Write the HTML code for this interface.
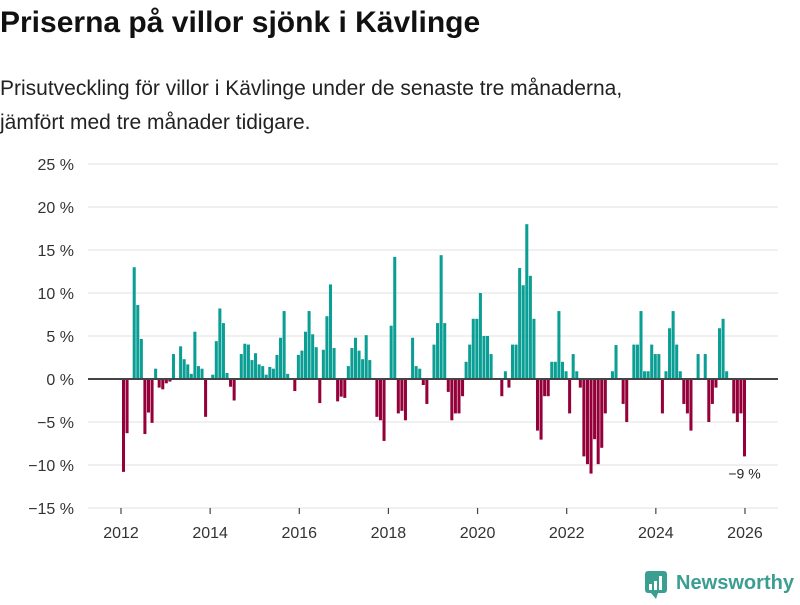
<!DOCTYPE html>
<html><head><meta charset="utf-8"><style>
body{margin:0;background:#fff;font-family:"Liberation Sans","DejaVu Sans",sans-serif;}
#wrap{position:relative;width:800px;height:600px;overflow:hidden;}
h1{position:absolute;left:0;top:6px;margin:0;font-size:30px;font-weight:bold;color:#111;}
.sub{position:absolute;left:0;font-size:21px;color:#222;margin:0;line-height:34px;}
</style></head><body>
<div id="wrap">
<h1>Priserna på villor sjönk i Kävlinge</h1>
<p class="sub" style="top:72px">Prisutveckling för villor i Kävlinge under de senaste tre månaderna,<br>jämfört med tre månader tidigare.</p>
<svg id="chart" width="800" height="600" style="position:absolute;left:0;top:0"></svg>
</div>
<script>
const values = [-10.8,-6.3,0,13.0,8.6,4.65,-6.4,-3.9,-5.1,1.2,-1.0,-1.2,-0.5,-0.3,2.9,0,3.8,2.3,1.7,0.6,5.5,1.5,1.2,-4.4,0,0.5,4.4,8.2,6.5,0.7,-0.9,-2.5,0,2.9,4.1,4.0,2.2,3.0,1.7,1.5,0.5,1.4,1.2,2.8,4.8,7.9,0.6,0,-1.4,2.8,3.3,5.5,7.9,5.2,3.7,-2.8,3.4,7.3,11.0,3.6,-2.6,-2.05,-2.2,1.5,3.6,4.8,3.3,2.3,5.1,2.2,0,-4.4,-4.8,-7.2,0,6.2,14.2,-4.0,-3.7,-4.8,0,4.8,1.5,1.2,-0.7,-2.9,0,4.0,6.5,14.4,6.5,-1.5,-4.8,-4.0,-4.0,-2.0,2.0,4.0,7.0,7.0,10.0,5.0,5.0,2.9,0,0,-2.0,0.9,-1.0,4.0,4.0,12.9,10.9,18.0,12.0,7.0,-6.0,-7.05,-2.0,-2.0,2.0,2.0,7.9,2.0,0.9,-4.0,2.9,0.9,-1.0,-9.0,-9.9,-11.0,-7.0,-9.9,-8.0,-4.0,0,0.9,3.95,0,-2.9,-5.0,0,4.0,4.0,7.9,0.9,0.9,4.0,2.9,2.9,-4.0,0.9,5.9,7.9,4.0,0.9,-2.9,-4.0,-6.0,0,2.9,0,2.9,-5.0,-2.9,-1.0,5.9,7.0,0.9,0,-4.0,-5.0,-4.0,-9.0];
const yTicks = [25,20,15,10,5,0,-5,-10,-15];
const xTickYears = [2012,2014,2016,2018,2020,2022,2024,2026];
const lastLabel = "−9 %";

const svg = document.getElementById('chart');
const NS = 'http://www.w3.org/2000/svg';
function y(v){ return 379 - v*8.6; }
function xYear(yr){ return 121 + (yr-2012)*44.57; }
const n = values.length;
const firstX = 123.5, lastX = 744.5;
const step = (lastX-firstX)/(n-1);
function xIdx(i){ return firstX + i*step; }
function mk(tag, attrs){ const e=document.createElementNS(NS,tag); for(const k in attrs) e.setAttribute(k,attrs[k]); svg.appendChild(e); return e; }

yTicks.forEach(t=>{
  const g = mk('line',{x1:88,x2:778,y1:y(t),y2:y(t),stroke:'#e0e0e0','stroke-width':1});
  
  
  const tx = mk('text',{x:74,y:y(t)+6,'text-anchor':'end','font-size':16,fill:'#333','font-family':'Liberation Sans, sans-serif'});
  tx.textContent = (t<0?'−'+Math.abs(t):t)+' %';
  
  
});
xTickYears.forEach(yr=>{
  const tk = mk('line',{x1:xYear(yr),x2:xYear(yr),y1:508,y2:514,stroke:'#444','stroke-width':1.2});
  
  
  const tx = mk('text',{x:xYear(yr),y:538,'text-anchor':'middle','font-size':16,fill:'#333','font-family':'Liberation Sans, sans-serif'});
  tx.textContent = yr;
  
  
});
const bw = step*0.85;
values.forEach((v,i)=>{
  if(v===0) return;
  const r = mk('rect',{x:xIdx(i)-bw/2,y:Math.min(y(v),y(0)),width:bw,height:Math.abs(y(v)-y(0)),fill:v>0?'#0a9e94':'#94003a'});
  
  
});
const z = mk('line',{x1:88,x2:778,y1:y(0),y2:y(0),stroke:'#444','stroke-width':2});


const lab = mk('text',{x:xIdx(n-1),y:y(values[n-1])+22,'text-anchor':'middle','font-size':14,fill:'#222','font-family':'Liberation Sans, sans-serif'});
lab.textContent = lastLabel;


</script>
<svg width="160" height="40" style="position:absolute;left:640px;top:565px">
<rect x="5" y="6" width="22" height="22" rx="3" fill="#3a9e91"/>
<path d="M11 28 L16 34 L18 28Z" fill="#3a9e91"/>
<rect x="9" y="19" width="3" height="6" fill="#fff"/><rect x="14" y="16" width="3" height="9" fill="#fff"/><rect x="19" y="11" width="3" height="14" fill="#fff"/>
<text x="36" y="24" font-size="20" font-weight="bold" fill="#3a9e91" font-family="Liberation Sans, sans-serif" textLength="118" lengthAdjust="spacingAndGlyphs">Newsworthy</text>
</svg>
</body></html>
